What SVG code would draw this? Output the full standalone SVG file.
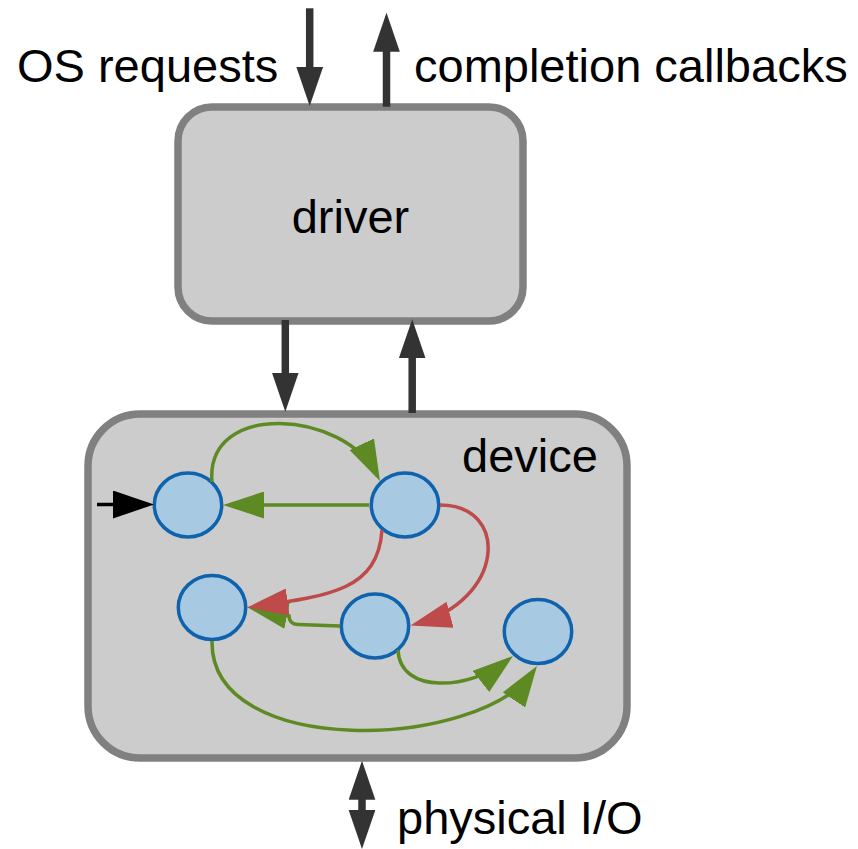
<svg xmlns="http://www.w3.org/2000/svg" width="858" height="849" viewBox="0 0 858 849">
  <style>
    .box { fill: #cccccc; stroke: #808080; stroke-width: 7.5; }
    .state { fill: #a7c9e2; stroke: #0f62ac; stroke-width: 3.5; }
    .label { font-family: "Liberation Sans", Arial, sans-serif; font-size: 47px; fill: #000000; }
    .flow { fill: none; stroke: #333333; stroke-width: 7.5; }
    .green { fill: none; stroke: #5e8a24; stroke-width: 3.5; marker-end: url(#headGreen); }
    .red { fill: none; stroke: #be4a4a; stroke-width: 3.5; marker-end: url(#headRed); }
    .entry { fill: none; stroke: #000000; stroke-width: 3.5; marker-end: url(#headBlack); }
  </style>
  <defs>
    <marker id="headDark" markerUnits="userSpaceOnUse" markerWidth="39" markerHeight="27" refX="2" refY="13.35" orient="auto-start-reverse">
      <path d="M0,0 L39,13.35 L0,26.7 Z" fill="#333333"/>
    </marker>
    <marker id="headGreen" markerUnits="userSpaceOnUse" markerWidth="41" markerHeight="27" refX="35" refY="13.5" orient="auto">
      <path d="M0,0 L41,13.5 L0,27 Z" fill="#5e8a24"/>
    </marker>
    <marker id="headRed" markerUnits="userSpaceOnUse" markerWidth="41" markerHeight="27" refX="35" refY="13.5" orient="auto">
      <path d="M0,0 L41,13.5 L0,27 Z" fill="#be4a4a"/>
    </marker>
    <marker id="headBlack" markerUnits="userSpaceOnUse" markerWidth="41" markerHeight="28" refX="35" refY="14" orient="auto">
      <path d="M0,0 L41,14 L0,28 Z" fill="#000000"/>
    </marker>
  </defs>

  <!-- driver box -->
  <g id="driver">
    <rect class="box" x="178" y="107" width="345" height="214" rx="34" ry="34"/>
    <text class="label" x="350.5" y="232.5" text-anchor="middle">driver</text>
  </g>

  <!-- device box -->
  <g id="device">
    <rect class="box" x="88" y="414" width="539" height="344" rx="52" ry="52"/>
    <text class="label" x="462" y="472">device</text>
  </g>

  <!-- external labels -->
  <g id="os-requests"><text class="label" x="17" y="82">OS requests</text></g>
  <g id="completion-callbacks"><text class="label" x="414" y="82">completion callbacks</text></g>
  <g id="physical-io"><text class="label" x="397" y="834">physical I/O</text></g>

  <!-- state machine inside the device -->
  <g id="state-a"><ellipse class="state" cx="188" cy="505" rx="33.7" ry="32"/></g>
  <g id="state-b"><ellipse class="state" cx="405" cy="505" rx="33.7" ry="32"/></g>
  <g id="state-c"><ellipse class="state" cx="212" cy="607.5" rx="33.7" ry="32"/></g>
  <g id="state-d"><ellipse class="state" cx="375" cy="626" rx="33.7" ry="32"/></g>
  <g id="state-e"><ellipse class="state" cx="538" cy="631.5" rx="33.7" ry="32"/></g>

  <g id="connectors">
    <!-- data flow between OS, driver, device and hardware -->
    <line class="flow" x1="309.7" y1="8.3" x2="309.7" y2="69" marker-end="url(#headDark)"/>
    <line class="flow" x1="386.5" y1="106.7" x2="386.5" y2="49.7" marker-end="url(#headDark)"/>
    <line class="flow" x1="285.3" y1="320" x2="285.3" y2="374.7" marker-end="url(#headDark)"/>
    <line class="flow" x1="412.2" y1="413" x2="412.2" y2="356.3" marker-end="url(#headDark)"/>
    <line class="flow" x1="362" y1="797.7" x2="362" y2="812" marker-start="url(#headDark)" marker-end="url(#headDark)"/>

    <!-- initial transition -->
    <line class="entry" x1="97" y1="504.5" x2="148" y2="504.5"/>

    <!-- green transitions -->
    <path class="green" d="M212,482 C205,400 345,410 377.3,475.7"/>
    <path class="green" d="M369,505 L229,505"/>
    <path class="green" d="M340,626 L298,624.5 Q289,624 289,616 L252.9,608.3"/>
    <path class="green" d="M398,650 C400,695 470,690 508.3,659.7"/>
    <path class="green" d="M212,641 C210,760 480,750 533.6,671"/>

    <!-- red transitions -->
    <path class="red" d="M382,530 C378,590 330,596 253,606.7"/>
    <path class="red" d="M440,505 C510,505 505,600 416.3,624"/>
  </g>
</svg>
